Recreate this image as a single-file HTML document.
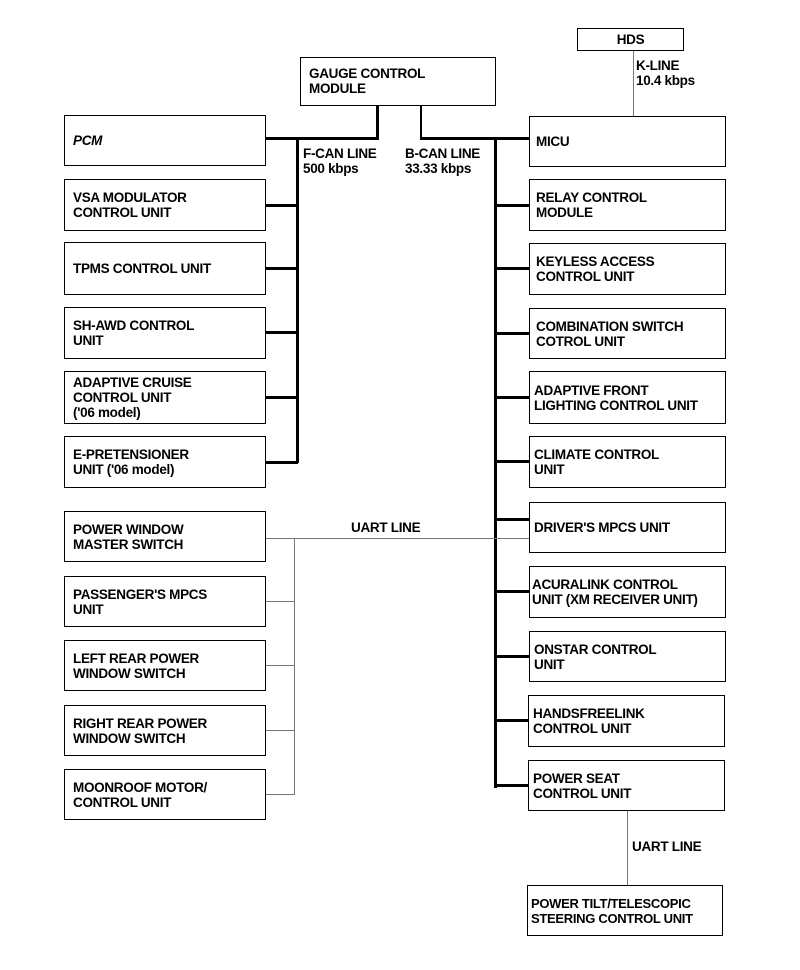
<!DOCTYPE html>
<html><head><style>
body{margin:0;background:#fff;}
.c{position:relative;width:800px;height:970px;font-family:"Liberation Sans",Arial,sans-serif;font-weight:bold;font-size:13.5px;line-height:15px;color:#000;letter-spacing:-0.3px}
.b{position:absolute;border:1.5px solid #000;box-sizing:border-box;padding:0 0 0 8px;display:flex;align-items:center;background:#fff}
.t{position:absolute;white-space:nowrap}
.h{position:absolute;background:#000}
.g{position:absolute;background:#777}
</style></head><body><div class="c">
<!-- lines -->
<div class="h" style="left:376px;top:105px;width:3px;height:35px"></div>
<div class="h" style="left:265px;top:137px;width:114px;height:3px"></div>
<div class="h" style="left:420px;top:105px;width:2px;height:35px"></div>
<div class="h" style="left:420px;top:137px;width:109px;height:3px"></div>
<div class="h" style="left:296px;top:137px;width:3px;height:326px"></div>
<div class="h" style="left:494px;top:137px;width:3px;height:651px"></div>
<div class="g" style="left:633px;top:50px;width:1px;height:66px"></div>
<div class="g" style="left:265px;top:538px;width:264px;height:1px"></div>
<div class="g" style="left:294px;top:538px;width:1px;height:257px"></div>
<div class="g" style="left:627px;top:810px;width:1px;height:75px"></div>
<div class="h" style="left:265px;top:204px;width:33px;height:3px"></div>
<div class="h" style="left:265px;top:267px;width:33px;height:3px"></div>
<div class="h" style="left:265px;top:331px;width:33px;height:3px"></div>
<div class="h" style="left:265px;top:396px;width:33px;height:3px"></div>
<div class="h" style="left:265px;top:461px;width:33px;height:3px"></div>
<div class="g" style="left:265px;top:601px;width:30px;height:1px"></div>
<div class="g" style="left:265px;top:665px;width:30px;height:1px"></div>
<div class="g" style="left:265px;top:730px;width:30px;height:1px"></div>
<div class="g" style="left:265px;top:794px;width:30px;height:1px"></div>
<div class="h" style="left:495px;top:204px;width:34px;height:3px"></div>
<div class="h" style="left:495px;top:267px;width:34px;height:3px"></div>
<div class="h" style="left:495px;top:332px;width:34px;height:3px"></div>
<div class="h" style="left:495px;top:396px;width:34px;height:3px"></div>
<div class="h" style="left:495px;top:460px;width:34px;height:3px"></div>
<div class="h" style="left:495px;top:518px;width:34px;height:3px"></div>
<div class="h" style="left:495px;top:590px;width:34px;height:3px"></div>
<div class="h" style="left:495px;top:655px;width:34px;height:3px"></div>
<div class="h" style="left:495px;top:719px;width:34px;height:3px"></div>
<div class="h" style="left:495px;top:784px;width:34px;height:3px"></div>
<!-- boxes -->
<div class="b" style="left:577px;top:28px;width:107px;height:23px;justify-content:center;padding:0">HDS</div>
<div class="b" style="left:300px;top:57px;width:196px;height:49px;align-items:flex-start;padding-top:8px">GAUGE CONTROL<br>MODULE</div>
<div class="b" style="left:64px;top:115px;width:202px;height:51px"><i>PCM</i></div>
<div class="b" style="left:64px;top:179px;width:202px;height:52px">VSA MODULATOR<br>CONTROL UNIT</div>
<div class="b" style="left:64px;top:242px;width:202px;height:53px">TPMS CONTROL UNIT</div>
<div class="b" style="left:64px;top:307px;width:202px;height:52px">SH-AWD CONTROL<br>UNIT</div>
<div class="b" style="left:64px;top:371px;width:202px;height:53px">ADAPTIVE CRUISE<br>CONTROL UNIT<br>('06 model)</div>
<div class="b" style="left:64px;top:436px;width:202px;height:52px">E-PRETENSIONER<br>UNIT ('06 model)</div>
<div class="b" style="left:64px;top:511px;width:202px;height:51px">POWER WINDOW<br>MASTER SWITCH</div>
<div class="b" style="left:64px;top:576px;width:202px;height:51px">PASSENGER'S MPCS<br>UNIT</div>
<div class="b" style="left:64px;top:640px;width:202px;height:51px">LEFT REAR POWER<br>WINDOW SWITCH</div>
<div class="b" style="left:64px;top:705px;width:202px;height:51px">RIGHT REAR POWER<br>WINDOW SWITCH</div>
<div class="b" style="left:64px;top:769px;width:202px;height:51px">MOONROOF MOTOR/<br>CONTROL UNIT</div>
<div class="b" style="left:529px;top:116px;width:197px;height:51px;padding-left:6px">MICU</div>
<div class="b" style="left:529px;top:179px;width:197px;height:52px;padding-left:6px">RELAY CONTROL<br>MODULE</div>
<div class="b" style="left:529px;top:243px;width:197px;height:52px;padding-left:6px">KEYLESS ACCESS<br>CONTROL UNIT</div>
<div class="b" style="left:529px;top:308px;width:197px;height:51px;padding-left:6px">COMBINATION SWITCH<br>COTROL UNIT</div>
<div class="b" style="left:529px;top:371px;width:197px;height:53px;padding-left:4px">ADAPTIVE FRONT<br>LIGHTING CONTROL UNIT</div>
<div class="b" style="left:529px;top:436px;width:197px;height:52px;padding-left:4px">CLIMATE CONTROL<br>UNIT</div>
<div class="b" style="left:529px;top:502px;width:197px;height:51px;padding-left:4px">DRIVER'S MPCS UNIT</div>
<div class="b" style="left:529px;top:566px;width:197px;height:52px;padding-left:2px">ACURALINK CONTROL<br>UNIT (XM RECEIVER UNIT)</div>
<div class="b" style="left:529px;top:631px;width:197px;height:51px;padding-left:4px">ONSTAR CONTROL<br>UNIT</div>
<div class="b" style="left:528px;top:695px;width:197px;height:52px;padding-left:4px">HANDSFREELINK<br>CONTROL UNIT</div>
<div class="b" style="left:528px;top:760px;width:197px;height:51px;padding-left:4px">POWER SEAT<br>CONTROL UNIT</div>
<div class="b" style="left:527px;top:885px;width:196px;height:51px;padding-left:3px;font-size:13px">POWER TILT/TELESCOPIC<br>STEERING CONTROL UNIT</div>
<!-- labels -->
<div class="t" style="left:303px;top:146px">F-CAN LINE<br>500 kbps</div>
<div class="t" style="left:405px;top:146px">B-CAN LINE<br>33.33 kbps</div>
<div class="t" style="left:636px;top:58px">K-LINE<br>10.4 kbps</div>
<div class="t" style="left:351px;top:520px">UART LINE</div>
<div class="t" style="left:632px;top:839px">UART LINE</div>
</div></body></html>
